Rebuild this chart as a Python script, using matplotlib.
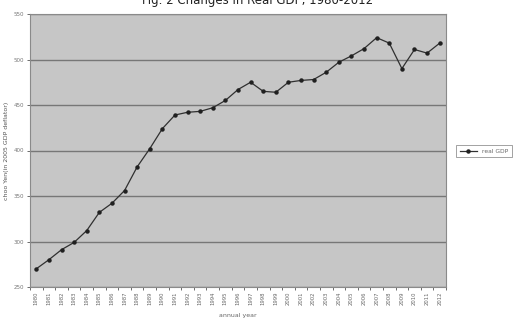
import matplotlib
matplotlib.use('Agg')
import matplotlib.pyplot as plt

years = [str(y) for y in range(1980, 2013)]
gdp = [270, 280, 291, 299, 312, 332, 342, 356, 382, 402, 424, 439, 442, 443, 447,
       455, 467, 475, 465, 464, 475, 477, 478, 486, 497, 504, 512, 524, 518, 490,
       511, 507, 518]
yticks = [250, 300, 350, 400, 450, 500, 550]

fig = plt.figure(figsize=(5.16, 3.26), dpi=100)
ax = fig.add_axes([30/516, 1-287/326, 416/516, 273/326])
ax.set_facecolor('#c6c6c6')

x = list(range(len(years)))
ax.plot(x, gdp, color='#303030', lw=0.9, marker='o', ms=2.2, mfc='#202020', mec='#202020', label='real GDP')

ax.set_xlim(-0.5, len(years)-0.5)
ax.set_ylim(250, 550)
ax.set_yticks(yticks)
ax.set_yticklabels([str(v) for v in yticks], fontsize=4, color='#777777')
ax.set_xticks([i - 0.5 for i in x] + [len(years)-0.5], minor=False)
ax.set_xticklabels([''] * (len(years)+1))
ax.set_xticks(x, minor=True)
ax.set_xticklabels(years, minor=True, rotation=90, fontsize=3.8, color='#666666')
ax.tick_params(axis='x', which='major', length=2.5, color='#555555', width=0.6)
ax.tick_params(axis='x', which='minor', length=0, pad=3)
ax.tick_params(axis='y', length=2.5, color='#555555', width=0.6, pad=2)
ax.grid(axis='y', color='#777777', lw=1.0)
ax.set_axisbelow(True)
for s in ax.spines.values():
    s.set_color('#8a8a8a')
    s.set_linewidth(0.8)

ax.set_xlabel('annual year', fontsize=4.5, color='#666666', labelpad=6)
ax.set_ylabel('choo Yen(in 2005 GDP deflator)', fontsize=4.5, color='#555555', labelpad=3)

fig.text(0.5, 0.997, 'Fig. 2 Changes in Real GDP, 1980-2012', ha='center', va='center',
         fontsize=8.5, color='#222222')

leg = fig.legend(loc='center', bbox_to_anchor=(484/516, 1-151/326), fontsize=4.3,
                 frameon=True, fancybox=False, handlelength=3, borderpad=0.6,
                 labelcolor='#666666')
leg.get_frame().set_edgecolor('#777777')
leg.get_frame().set_linewidth(0.6)

fig.savefig('out.png', dpi=100)
